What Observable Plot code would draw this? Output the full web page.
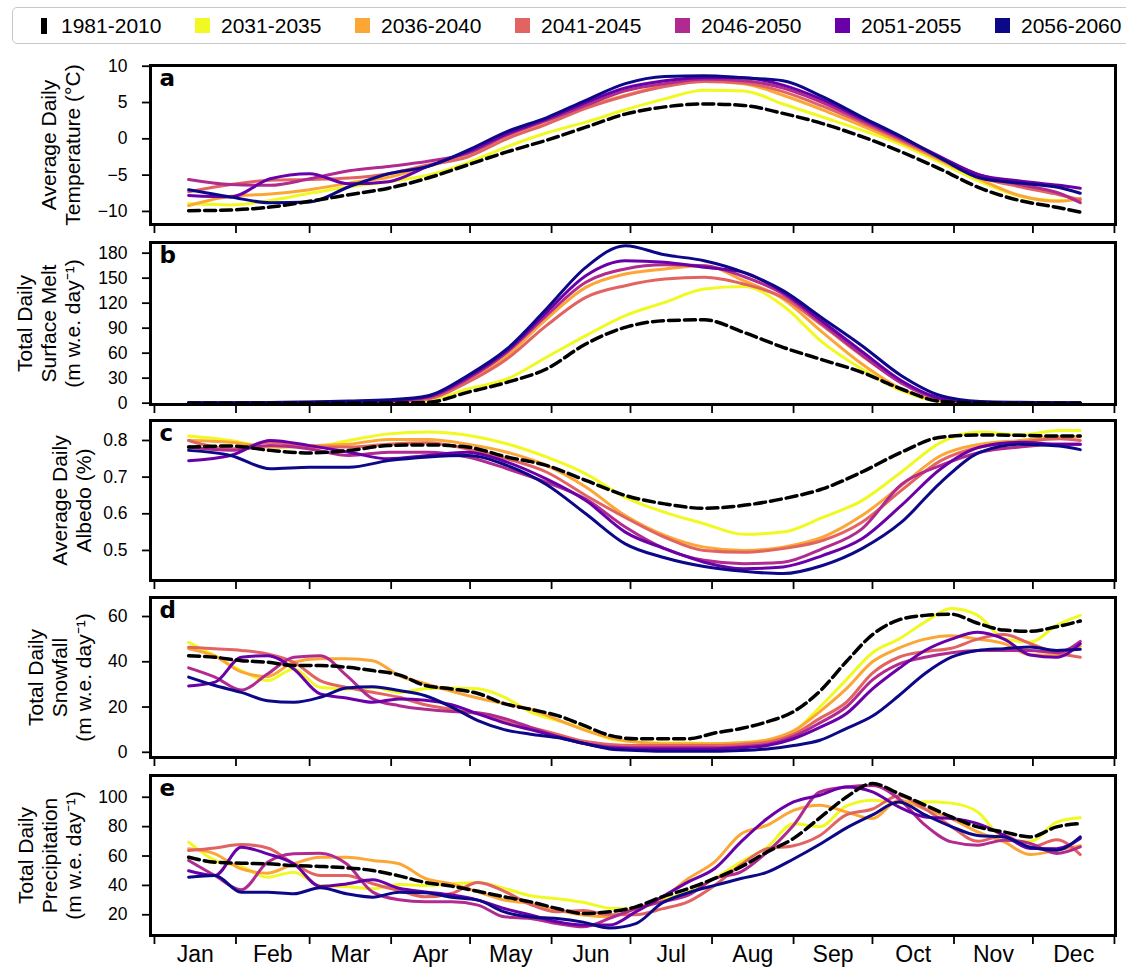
<!DOCTYPE html>
<html><head><meta charset="utf-8">
<script src="https://cdn.jsdelivr.net/npm/d3@7"></script>
<script src="https://cdn.jsdelivr.net/npm/@observablehq/plot@0.6"></script>
<style>
body{margin:0;background:#fff;font-family:"Liberation Sans",Arial,Helvetica,sans-serif;}
#wrap{position:relative;width:1126px;height:967px;overflow:hidden;background:#fff;}
#legend{position:absolute;left:12px;top:7px;width:1140px;height:37px;border:1.5px solid #c8c8c8;border-radius:5px;box-sizing:border-box;}
.item{position:absolute;top:0;height:35px;display:flex;align-items:center;font-size:21px;color:#000;white-space:nowrap;}
.sw{width:15px;height:15px;margin-right:11px;flex:none;}
#panels{position:absolute;left:0;top:55px;}
#panels svg{display:block;}
</style></head>
<body>
<div id="wrap">
  <div id="legend"></div>
  <div id="panels"></div>
</div>
<script>
// ---------- data ----------
const series = ["1981-2010","2031-2035","2036-2040","2041-2045","2046-2050","2051-2055","2056-2060"];
const colors = ["#000000","#f0f921","#fca636","#e16462","#b12a90","#6a00a8","#0d0887"];
const monthNames = ["Jan","Feb","Mar","Apr","May","Jun","Jul","Aug","Sep","Oct","Nov","Dec"];
const monthStarts = [1,32,60,91,121,152,182,213,244,274,305,335,366];

// day-of-year sample points
const daysSmooth = [14,30,45,60,75,90,105,120,135,150,165,180,195,210,225,240,255,270,285,300,315,330,345,353];
const daysNoisy = [14,24,34,44,54,64,74,84,94,104,114,124,134,144,154,164,174,184,194,204,214,224,234,244,254,264,274,284,294,304,314,324,334,344,353];

// (a) Average daily temperature (°C), one row per series
const temperature = [
  [-9.9,-9.8,-9.4,-8.6,-7.7,-6.8,-5.4,-3.6,-1.8,-0.2,1.6,3.4,4.4,4.8,4.6,3.5,2.1,0.3,-1.8,-4.2,-6.8,-8.5,-9.5,-10.1],
  [-8.9,-9.1,-8.5,-7.5,-6.6,-5.9,-5.0,-3.3,-1.1,0.8,2.3,4.0,5.5,6.7,6.6,4.8,3.0,1.2,-0.8,-3.3,-5.9,-7.9,-8.5,-8.4],
  [-9.2,-7.9,-7.6,-7.0,-6.1,-5.3,-3.8,-2.2,0.2,2.1,4.4,6.0,7.3,7.9,7.6,6.0,4.0,1.8,-0.5,-3.0,-5.6,-7.8,-8.6,-8.2],
  [-7.3,-6.3,-5.7,-5.6,-5.4,-4.8,-3.6,-2.5,0.0,2.0,4.2,5.9,7.2,7.9,7.7,6.5,4.5,2.2,-0.2,-2.8,-5.3,-6.6,-7.7,-8.4],
  [-5.6,-6.3,-6.4,-5.5,-4.4,-3.8,-3.1,-2.0,0.5,2.5,4.6,6.6,7.6,8.2,8.0,7.0,5.0,2.5,0.0,-2.6,-5.0,-6.3,-7.5,-8.8],
  [-7.8,-8.0,-5.5,-4.8,-6.2,-5.9,-3.8,-1.8,0.7,2.7,5.0,7.0,8.0,8.4,8.4,7.4,5.4,2.8,0.2,-2.5,-5.0,-5.8,-6.4,-6.8],
  [-7.0,-8.0,-8.8,-8.7,-6.6,-4.8,-3.8,-1.6,1.0,2.9,5.3,7.6,8.6,8.7,8.4,8.0,5.8,3.0,0.3,-2.7,-5.4,-6.1,-6.7,-7.5]
];

// (b) Total daily surface melt
const melt = [
  [0,0,0,0,0,0.2,1,13,25,41,71,91,99,100,85,67,52,37,17,2,0.2,0,0,0],
  [0.2,0.2,0.3,0.4,0.6,1,3,17,29,55,81,105,121,137,140,117,73,41,15,2,0.4,0.3,0.2,0.2],
  [0.3,0.3,0.5,0.8,1.2,2,6,27,57,101,139,155,161,165,147,125,85,47,17,3,0.6,0.4,0.3,0.2],
  [0.3,0.4,0.5,0.8,1.2,2,5,25,53,93,127,141,149,151,143,127,93,57,25,5,0.8,0.5,0.3,0.3],
  [0.3,0.4,0.6,0.9,1.5,2.5,7,29,61,105,145,161,166,165,152,131,95,58,24,5,1,0.6,0.4,0.3],
  [0.4,0.5,0.7,1,1.5,3,8,31,63,109,153,171,169,163,157,133,98,62,27,6,1.2,0.7,0.5,0.4],
  [0.5,0.6,0.9,1.5,2.5,4,9,33,65,113,163,189,178,171,157,135,102,69,33,9,2,1,0.6,0.5]
];

// (c) Average daily albedo
const albedo = [
  [0.782,0.785,0.773,0.766,0.773,0.786,0.788,0.782,0.755,0.732,0.691,0.65,0.627,0.615,0.623,0.641,0.668,0.714,0.768,0.809,0.815,0.814,0.812,0.812],
  [0.812,0.80,0.782,0.782,0.80,0.818,0.823,0.814,0.791,0.755,0.709,0.645,0.604,0.573,0.544,0.55,0.59,0.636,0.714,0.795,0.823,0.815,0.827,0.827],
  [0.80,0.795,0.782,0.786,0.79,0.803,0.803,0.79,0.768,0.732,0.673,0.595,0.541,0.509,0.50,0.509,0.536,0.595,0.677,0.759,0.79,0.80,0.81,0.81],
  [0.80,0.777,0.795,0.782,0.782,0.79,0.794,0.777,0.75,0.714,0.65,0.59,0.536,0.50,0.495,0.505,0.527,0.577,0.664,0.745,0.782,0.795,0.805,0.80],
  [0.782,0.773,0.786,0.777,0.759,0.768,0.768,0.755,0.723,0.686,0.64,0.564,0.505,0.473,0.464,0.468,0.505,0.559,0.68,0.732,0.768,0.782,0.79,0.79],
  [0.745,0.759,0.80,0.786,0.768,0.75,0.759,0.768,0.741,0.695,0.636,0.55,0.505,0.468,0.45,0.455,0.486,0.532,0.623,0.723,0.782,0.795,0.79,0.79],
  [0.773,0.759,0.723,0.727,0.727,0.745,0.755,0.759,0.732,0.68,0.60,0.518,0.48,0.456,0.443,0.437,0.459,0.505,0.577,0.686,0.768,0.79,0.785,0.775]
];

// (d) Total daily snowfall
const snowfall = [
  [42.7,42,40.5,39.8,38.3,38.3,37.6,36.1,34.2,29.5,28,26,21.5,19,16.3,12,7.5,6,6,6,8.5,10.5,13.5,18,27,40,52,58.5,60.5,61,57,54,53.5,55.5,58],
  [48.6,42.7,36.1,31.7,36.8,28.7,28,28.7,26.5,28.1,28.4,28.1,24.4,17.8,14.1,10.5,6,4.6,4.1,4.1,3.8,4.3,5.3,9,20,32,44,50,57.6,63.5,60.5,50.2,48.7,56.1,60.5],
  [45.7,42.5,35.5,33.5,39.8,41.3,41.3,40.5,33.9,30.3,27,24,21.5,19,14.5,10,6.5,4.5,3.8,3.8,3.8,4.2,5.5,9.5,18,28,40,46,50,51.5,50,48,43,43,47],
  [46.4,45.7,45,43.5,39.8,31.7,28.7,26.5,24.3,21,19,17,14,11,8,5,3.5,3,3,3,3,3.5,4.5,8,15,22,35,42,44.5,46,50,52,48,44,42],
  [37.3,33.2,27.5,34.6,42,42.7,34,23.6,20.6,19,18,17.5,15,11,7,4,2.5,2,2,2,2,2.5,3.5,7,13,20,32,39,42,44,45,45,45,44,49],
  [29.3,31,42,42.7,36.8,25.8,24,22.1,23.6,23,21,17,13,10,7,4,2,1.5,1.5,1.5,1.5,2,3,6,11,17,28,37,45,50,53,50,43,42,48],
  [33.2,29.5,26.5,22.8,22.1,24.3,28.4,29,27.3,25,20,14,10,8,6.5,4,1.5,0.8,0.5,0.5,0.5,0.8,1.5,3,5.3,10.5,16,25,34.8,42,45,45.8,46.5,45,45.5]
];

// (e) Total daily precipitation
const precipitation = [
  [59.2,55.8,55.1,54.7,53.5,52.9,52,50.1,46.5,42,39.5,36,32.2,28.8,24.3,20.9,22,25.4,32.2,37.9,44.7,52.6,62.8,72,86,100,109.3,102.5,94.6,86.6,79.8,76.4,73,79.8,82.1],
  [69.4,57,52.9,45.6,49,39.9,39.2,37.7,40.6,40,41,42,38,33,31,28.5,24.5,24,30,36,44.7,56,66,82,80,94,98,96,97,96,90,72,70,83,86],
  [64.9,61.5,51.3,48.3,54.7,59.2,59.2,57,54.7,44.7,41,35.6,30,27.7,23.2,19.8,18.6,24.3,31.1,44.7,56,75,81,91,94.6,90,85.5,98,92,85.5,76.4,69.6,61,64,67],
  [63.7,65.5,67.8,65.5,54.7,46.7,46.7,41.1,36.5,32.2,34.5,42,36,27,22,23,20,20,24,29,40,54,65,67,74,88,92,101,92,80,70,74,66,71,61],
  [57,46.7,37,55.8,61.5,61.9,54.7,35.4,30.2,28.8,28.8,26.6,18.6,17.5,14.1,11.8,17.5,24.3,28.8,33.4,44.7,49.2,62.8,81,103.6,107,108,99,81,69.6,67.4,70.8,68.5,61.7,66.2],
  [50,46.7,66,61.5,54.7,39.3,41,43.8,38,35.6,33.4,30,24.3,19.8,15.2,13,13,22,32.2,42.4,51.5,69.6,85.5,96.8,101.4,107,103.6,93.4,86.6,85.5,82,74.2,65.1,65,72],
  [45.6,46.7,35.4,35.4,34.3,38.4,34.3,32,35.4,35,32,30,22,18.5,17.5,15,11,14,28,35,40,44.7,49,58,68,79,88,96.8,88,80,74,73,66,64,73]
];

// ---------- legend ----------
const legend = document.getElementById("legend");
series.forEach((s, i) => {
  const it = document.createElement("div");
  it.className = "item";
  it.style.left = (22 + i * 160) + "px";
  const sw = document.createElement("div");
  sw.className = "sw";
  sw.style.background = colors[i];
  if (i === 0) { sw.style.width = "6px"; sw.style.height = "16px"; sw.style.marginLeft = "6px"; sw.style.marginRight = "14px"; }
  const tx = document.createElement("span");
  tx.textContent = s;
  it.appendChild(sw); it.appendChild(tx);
  legend.appendChild(it);
});

// ---------- panels ----------
const monthMids = monthStarts.slice(0, 12).map((d, i) => (d + monthStarts[i + 1]) / 2);
const FONT = "Liberation Sans, Arial, Helvetica, sans-serif";

function makePanel({values, days, yDomain, yTicks, yFormat, yLabel, letter, height, mt, mb, labelX, last}) {
  const rows = [];
  values.forEach((vals, s) => vals.forEach((v, j) => rows.push({day: days[j], value: v, series: series[s]})));
  const base = rows.filter(d => d.series === series[0]);
  const proj = rows.filter(d => d.series !== series[0]);
  const yAxisOpts = {ticks: yTicks, tickSize: 8, tickPadding: 15, fontSize: 17.5, strokeWidth: 1.8, label: null};
  if (yFormat) yAxisOpts.tickFormat = yFormat;
  const marks = [
    Plot.axisY(yAxisOpts),
    Plot.axisX({ticks: monthStarts, tickSize: 9, strokeWidth: 1.8, tickFormat: () => "", label: null}),
    Plot.line(proj, {x: "day", y: "value", z: "series", stroke: "series", strokeWidth: 3, curve: "monotone-x"}),
    Plot.line(base, {x: "day", y: "value", stroke: "#000", strokeWidth: 3.5, strokeDasharray: "11,5", curve: "monotone-x"}),
    Plot.frame({stroke: "#000", strokeWidth: 3}),
    Plot.text([letter], {frameAnchor: "top-left", dx: 9, dy: 4, lineAnchor: "top", textAnchor: "start", fontWeight: "bold", fontSize: 23, fontFamily: "DejaVu Sans, sans-serif"}),
    Plot.text([yLabel], {frameAnchor: "left", rotate: -90, dx: labelX - 150, textAnchor: "middle", lineAnchor: "middle", fontSize: 21, lineHeight: 1.14})
  ];
  if (last) {
    marks.push(Plot.axisX({ticks: monthMids, tickSize: 0, tickPadding: 10, fontSize: 23, label: null,
      tickFormat: d => monthNames[monthMids.indexOf(d)]}));
  }
  return Plot.plot({
    width: 1126, height, marginLeft: 150, marginRight: 11, marginTop: mt, marginBottom: mb,
    style: {fontFamily: FONT, background: "transparent", overflow: "visible"},
    x: {domain: [-0.5, 366.4]},
    y: {domain: yDomain},
    color: {domain: series, range: colors},
    marks
  });
}

const panels = document.getElementById("panels");
const cfgs = [
  {values: temperature, days: daysSmooth, yDomain: [-11.8, 10.1], yTicks: [-10, -5, 0, 5, 10],
   yLabel: "Average Daily\nTemperature (°C)", letter: "a", height: 182, mt: 10, mb: 13, labelX: 60},
  {values: melt, days: daysSmooth, yDomain: [-1.6, 192.8], yTicks: [0, 30, 60, 90, 120, 150, 180],
   yLabel: "Total Daily\nSurface Melt\n(m w.e. day⁻¹)", letter: "b", height: 178, mt: 5, mb: 11, labelX: 48},
  {values: albedo, days: daysSmooth, yDomain: [0.418, 0.8545], yTicks: [0.5, 0.6, 0.7, 0.8], yFormat: d3.format(".1f"),
   yLabel: "Average Daily\nAlbedo (%)", letter: "c", height: 177, mt: 5, mb: 12, labelX: 70.5},
  {values: snowfall, days: daysNoisy, yDomain: [-2.3, 68.4], yTicks: [0, 20, 40, 60],
   yLabel: "Total Daily\nSnowfall\n(m w.e. day⁻¹)", letter: "d", height: 178, mt: 5, mb: 13, labelX: 59},
  {values: precipitation, days: daysNoisy, yDomain: [5.9, 114.8], yTicks: [20, 40, 60, 80, 100],
   yLabel: "Total Daily\nPrecipitation\n(m w.e. day⁻¹)", letter: "e", height: 197, mt: 5, mb: 32, labelX: 48.5, last: true}
];
cfgs.forEach(c => panels.appendChild(makePanel(c)));
</script>
</body></html>
